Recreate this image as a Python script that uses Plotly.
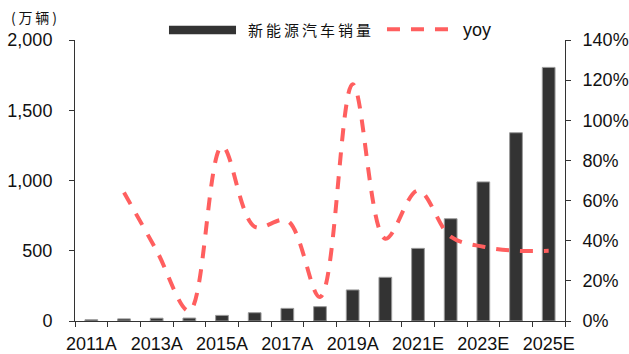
import plotly.graph_objects as go

# China NEV sales (10k units) and year-over-year growth
years = ["2011A", "2012A", "2013A", "2014A", "2015A", "2016A", "2017A", "2018A",
         "2019A", "2020A", "2021E", "2022E", "2023E", "2024E", "2025E"]
sales = [9, 15, 20, 21, 40, 59, 90, 102, 221, 311, 517, 728, 990, 1340, 1805]
yoy = [None, 0.64, 0.35, 0.05, 0.87, 0.47, 0.50, 0.12, 1.18, 0.41, 0.65, 0.42, 0.37, 0.35, 0.35]

bar_name = "新能源汽车销量"
line_name = "yoy"
unit_label = "(万辆)"

BAR_COLOR = "#333333"
LINE_COLOR = "rgb(255,95,95)"
AXIS_COLOR = "#333333"
FONT = "Liberation Sans, Arial, sans-serif"
CJK = "Noto Sans CJK SC, sans-serif"
DASH = "13px,11px"

fig = go.Figure()
fig.add_trace(go.Bar(
    x=years, y=sales, name=bar_name,
    marker=dict(color=BAR_COLOR, line=dict(color="#9a9a9a", width=1)),
    showlegend=False,
))
fig.add_trace(go.Scatter(
    x=years, y=yoy, name=line_name, yaxis="y2", mode="lines",
    line=dict(color=LINE_COLOR, width=4, dash=DASH, shape="spline", smoothing=1),
    showlegend=False,
))

ticktext = [y if i % 2 == 0 else "" for i, y in enumerate(years)]

fig.update_layout(
    width=629, height=354,
    margin=dict(l=75, r=64, t=40, b=33, autoexpand=False),
    paper_bgcolor="white", plot_bgcolor="white",
    font=dict(family=FONT, size=18, color="#111111"),
    bargap=0.61,
    xaxis=dict(
        type="category", tickmode="array", tickvals=years, ticktext=ticktext,
        tickson="boundaries", ticks="outside", ticklen=5, tickcolor=AXIS_COLOR,
        showline=True, linecolor=AXIS_COLOR, linewidth=1, showgrid=False,
        tickfont=dict(size=18), tickangle=0, range=[-0.5, 14.5],
        ticklabelstandoff=6,
    ),
    yaxis=dict(
        range=[0, 2000], dtick=500, tickformat=",", ticks="outside", ticklen=5,
        tickcolor=AXIS_COLOR, showline=True, linecolor=AXIS_COLOR, linewidth=1,
        showgrid=False, zeroline=False, ticklabelstandoff=13,
    ),
    yaxis2=dict(
        range=[0, 1.4], dtick=0.2, tickformat=".0%", overlaying="y", side="right",
        ticks="outside", ticklen=5, tickcolor=AXIS_COLOR, showline=True,
        linecolor=AXIS_COLOR, linewidth=1, showgrid=False, zeroline=False,
        ticklabelstandoff=8,
    ),
)

# Legend drawn as shapes + text so the bar swatch can be a wide block
fig.add_shape(type="rect", xref="paper", yref="paper",
              x0=0.1918, x1=0.3286, y0=1.0203, y1=1.0509,
              fillcolor=BAR_COLOR, line=dict(width=0))
fig.add_annotation(xref="paper", yref="paper", x=0.349, y=1.0356,
                   xanchor="left", yanchor="middle", showarrow=False,
                   text="\u2009".join(bar_name),
                   font=dict(family=CJK, size=15, color="#111111"))
fig.add_shape(type="line", xref="paper", yref="paper",
              x0=0.6367, x1=0.7796, y0=1.038, y1=1.038,
              line=dict(color=LINE_COLOR, width=4, dash=DASH))
fig.add_annotation(xref="paper", yref="paper", x=0.788, y=1.0356,
                   xanchor="left", yanchor="middle", showarrow=False,
                   text=line_name, font=dict(family=FONT, size=18, color="#111111"))
fig.add_annotation(xref="paper", yref="paper", x=-0.135, y=1.083,
                   xanchor="left", yanchor="middle", showarrow=False,
                   text="(\u2009万\u2009辆\u2009)",
                   font=dict(family=CJK, size=14, color="#111111"))

fig.write_html("out.html")
